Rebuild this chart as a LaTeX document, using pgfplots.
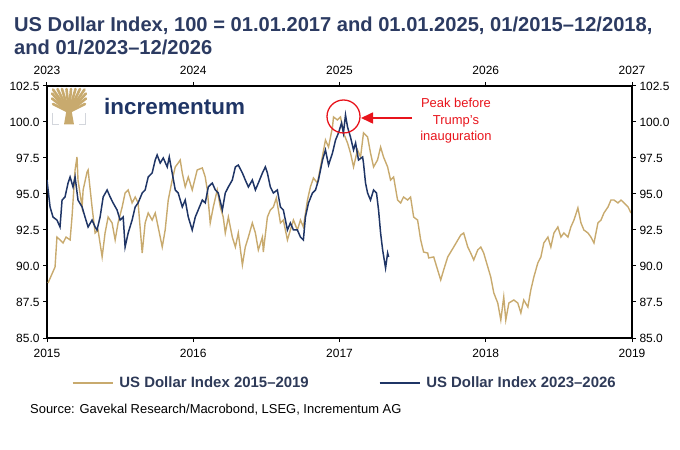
\documentclass[border=0pt]{standalone}
\usepackage{pgfplots}
\pgfplotsset{compat=1.18}
\usepackage{fontspec}
\setmainfont{Liberation Sans}
\usetikzlibrary{arrows.meta}
\definecolor{gold}{HTML}{C8AA6E}
\definecolor{navy}{HTML}{1F3566}
\definecolor{titlec}{HTML}{2C3B62}
\definecolor{legc}{HTML}{2E3A58}
\definecolor{annred}{HTML}{E8141C}
\definecolor{bracket}{HTML}{D3D6DC}
\pgfplotsset{
  common/.style={
    at={(0,0)}, anchor=south west,
    scale only axis, width=585bp, height=252bp,
    ymin=85, ymax=102.5,
    ytick={85,87.5,90,92.5,95,97.5,100,102.5},
    tick align=outside, major tick length=4bp,
    /pgf/number format/assume math mode=true,
    tick label style={font=\fontsize{12}{14}\selectfont, black},
    xticklabel style={/pgf/number format/1000 sep={}},
    yticklabel style={/pgf/number format/.cd, fixed, fixed zerofill, precision=1},
    axis line style={line width=1.1bp, black},
    tick style={line width=1bp, black},
  }
}
\begin{document}
\begin{tikzpicture}
\begin{axis}[common,
  xmin=2015, xmax=2019, xtick={2015,2016,2017,2018,2019},
  xticklabel style={yshift=-3.5bp},
  axis x line*=bottom, axis y line*=left]
\addplot[gold, line width=1.4bp] coordinates {
(2015.007,88.82)(2015.055,89.93)(2015.068,92.01)(2015.089,91.81)(2015.110,91.60)(2015.130,92.01)(2015.158,91.81)(2015.171,93.40)(2015.192,96.67)(2015.205,97.57)(2015.212,95.97)(2015.240,94.10)(2015.247,95.28)(2015.274,96.53)(2015.281,96.67)(2015.308,94.10)(2015.329,92.29)(2015.349,92.50)(2015.377,90.63)(2015.397,92.29)(2015.418,93.40)(2015.445,92.99)(2015.466,91.81)(2015.486,92.99)(2015.514,94.10)(2015.534,95.07)(2015.555,95.28)(2015.582,94.38)(2015.603,94.79)(2015.623,94.38)(2015.651,90.90)(2015.671,92.99)(2015.692,93.68)(2015.719,93.19)(2015.740,93.68)(2015.760,92.71)(2015.788,91.32)(2015.808,92.50)(2015.829,94.58)(2015.856,95.97)(2015.877,96.88)(2015.897,97.15)(2015.911,97.36)(2015.925,96.46)(2015.945,95.49)(2015.966,96.18)(2015.993,95.28)(2016.027,96.67)(2016.062,96.81)(2016.082,96.18)(2016.096,95.28)(2016.116,92.99)(2016.137,94.10)(2016.164,95.28)(2016.185,94.10)(2016.205,93.40)(2016.219,92.29)(2016.240,93.40)(2016.267,92.01)(2016.288,91.32)(2016.308,92.29)(2016.336,90.07)(2016.356,91.32)(2016.377,92.01)(2016.404,92.99)(2016.425,92.29)(2016.445,91.11)(2016.473,92.01)(2016.479,90.97)(2016.507,93.40)(2016.527,93.89)(2016.548,94.10)(2016.568,94.72)(2016.582,93.89)(2016.596,92.99)(2016.616,93.19)(2016.644,91.81)(2016.664,92.50)(2016.685,93.19)(2016.712,92.50)(2016.733,93.19)(2016.753,92.71)(2016.781,94.58)(2016.801,95.49)(2016.822,96.11)(2016.849,95.76)(2016.870,96.88)(2016.904,98.75)(2016.925,98.26)(2016.952,99.65)(2016.959,100.35)(2016.986,100.14)(2017.007,100.35)(2017.027,99.24)(2017.055,98.54)(2017.075,97.85)(2017.096,96.88)(2017.123,98.06)(2017.144,97.57)(2017.164,99.24)(2017.192,98.96)(2017.212,97.85)(2017.233,96.88)(2017.260,97.36)(2017.281,98.26)(2017.301,97.57)(2017.329,96.88)(2017.349,95.97)(2017.370,96.18)(2017.397,94.58)(2017.418,94.38)(2017.438,94.79)(2017.466,94.58)(2017.486,94.79)(2017.507,93.40)(2017.534,93.19)(2017.555,91.81)(2017.575,90.97)(2017.603,90.90)(2017.610,90.56)(2017.644,90.63)(2017.692,89.03)(2017.712,89.72)(2017.740,90.63)(2017.781,91.32)(2017.829,92.15)(2017.849,92.29)(2017.877,91.32)(2017.897,90.90)(2017.918,90.42)(2017.945,91.11)(2017.966,91.32)(2017.986,90.90)(2018.014,89.93)(2018.034,89.24)(2018.055,88.13)(2018.082,87.43)(2018.103,86.25)(2018.123,87.85)(2018.137,86.25)(2018.158,87.43)(2018.192,87.64)(2018.219,87.43)(2018.240,86.74)(2018.260,87.64)(2018.288,87.15)(2018.308,88.33)(2018.329,89.24)(2018.356,90.21)(2018.377,90.63)(2018.397,91.60)(2018.425,92.01)(2018.445,91.32)(2018.466,92.29)(2018.493,92.71)(2018.514,92.01)(2018.534,92.29)(2018.562,92.01)(2018.582,92.71)(2018.603,93.19)(2018.630,94.03)(2018.651,92.99)(2018.671,92.50)(2018.699,92.29)(2018.719,92.01)(2018.740,91.60)(2018.767,92.99)(2018.788,93.19)(2018.808,93.68)(2018.836,94.10)(2018.856,94.58)(2018.877,94.58)(2018.904,94.38)(2018.925,94.58)(2018.945,94.38)(2018.973,94.10)(2018.993,93.68)
};
\end{axis}
\begin{axis}[common,
  xmin=2023, xmax=2027, xtick={2023,2024,2025,2026,2027},
  xticklabel style={yshift=3.5bp},
  axis x line*=top, axis y line*=right,
  legend columns=2,
  legend style={at={(0.509,-0.179)}, anchor=center, draw=none, fill=none,
    font=\fontsize{15}{18}\selectfont\bfseries\color{legc},
    /tikz/every even column/.append style={column sep=68bp},
    inner sep=0pt},
  legend image code/.code={\draw[#1] (0bp,0bp) -- (40bp,0bp); \path (44bp,0bp);}]
\addlegendimage{gold, line width=1.6bp}
\addlegendentry{US Dollar Index 2015--2019}
\addplot[navy, line width=1.5bp] coordinates {
(2023.000,95.97)(2023.021,94.10)(2023.041,93.40)(2023.068,93.19)(2023.089,92.71)(2023.103,94.58)(2023.123,94.79)(2023.144,95.76)(2023.158,96.18)(2023.178,95.49)(2023.192,96.18)(2023.212,94.58)(2023.240,94.10)(2023.260,93.40)(2023.281,92.71)(2023.308,93.19)(2023.329,92.71)(2023.342,92.50)(2023.363,93.40)(2023.384,94.79)(2023.411,95.28)(2023.432,94.79)(2023.452,94.38)(2023.479,93.89)(2023.500,93.19)(2023.521,93.40)(2023.534,91.32)(2023.555,92.29)(2023.582,93.19)(2023.603,94.10)(2023.623,94.38)(2023.651,95.07)(2023.671,95.28)(2023.692,96.18)(2023.719,96.46)(2023.740,97.36)(2023.753,97.71)(2023.774,97.15)(2023.795,97.50)(2023.822,96.88)(2023.836,97.57)(2023.856,96.46)(2023.877,95.28)(2023.897,95.07)(2023.925,94.10)(2023.945,94.58)(2023.966,93.40)(2023.993,92.50)(2024.014,93.40)(2024.034,93.89)(2024.062,94.58)(2024.082,94.38)(2024.103,95.49)(2024.130,95.76)(2024.151,95.28)(2024.171,95.07)(2024.199,93.89)(2024.219,95.07)(2024.240,95.49)(2024.267,95.97)(2024.288,96.88)(2024.308,97.01)(2024.336,96.46)(2024.356,95.97)(2024.377,95.49)(2024.404,95.97)(2024.425,95.28)(2024.445,95.76)(2024.473,96.46)(2024.493,96.88)(2024.507,96.46)(2024.527,95.49)(2024.548,95.07)(2024.575,95.28)(2024.596,94.10)(2024.616,93.89)(2024.644,92.50)(2024.664,92.99)(2024.685,92.50)(2024.712,92.50)(2024.733,92.01)(2024.753,91.81)(2024.767,93.40)(2024.788,94.38)(2024.815,95.07)(2024.836,95.28)(2024.856,95.97)(2024.884,97.36)(2024.904,98.06)(2024.925,97.01)(2024.952,97.85)(2024.973,98.75)(2024.993,99.24)(2025.014,99.93)(2025.027,99.24)(2025.041,100.49)(2025.055,99.65)(2025.075,98.96)(2025.096,98.06)(2025.110,98.54)(2025.130,97.36)(2025.158,97.57)(2025.164,97.15)(2025.178,95.76)(2025.192,95.07)(2025.212,94.58)(2025.233,95.28)(2025.253,95.07)(2025.267,93.89)(2025.281,92.29)(2025.295,91.11)(2025.315,89.86)(2025.329,90.90)(2025.336,90.63)
};
\addlegendentry{US Dollar Index 2023--2026}
\end{axis}
\begin{scope}[shift={(-47bp,338bp)}, x=1bp, y=-1bp]
\path[use as bounding box] (0,0) rectangle (680,450);
% title
\node[anchor=base west, inner sep=0pt, text=titlec, font=\fontsize{20.2}{23}\selectfont\bfseries] at (14,32) {US Dollar Index, 100 = 01.01.2017 and 01.01.2025, 01/2015--12/2018,};
\node[anchor=base west, inner sep=0pt, text=titlec, font=\fontsize{20.2}{23}\selectfont\bfseries] at (14,55) {and 01/2023--12/2026};
% logo
\fill[gold] (64,124.5) -- (74,124.5) -- (72,113) -- (70.5,106) -- (67.5,106) -- (66,113) -- cycle;
\foreach \tx/\ty in {53/89.5,57.5/89,62/89,66.5/89,71/89,75.5/89,80/89,84.5/89.5,52/93.5,52/98.5,53/104,86/93.5,86/98.5,85/104}
  \draw[gold, line width=2.6bp, line cap=round] (69,112) -- (\tx,\ty);
\draw[bracket, line width=1.8bp] (52.5,113) -- (52.5,124.5) -- (59,124.5);
\draw[bracket, line width=1.8bp] (79,124.5) -- (85.5,124.5) -- (85.5,113);
\node[anchor=base west, inner sep=0pt, text=navy, font=\fontsize{22.5}{26}\selectfont\bfseries] at (104,115) {incrementum};
% annotation
\draw[annred, line width=1.3bp] (343.5,116.5) circle[radius=16.5];
\draw[annred, line width=1.6bp, -{Triangle[length=12bp,width=11bp]}] (412,118) -- (361,118);
\node[text=annred, align=center, inner sep=0pt, font=\fontsize{13}{16.5}\selectfont] at (456,121) {Peak before\\Trump's\\inauguration};
% source
\node[anchor=base west, inner sep=0pt, font=\fontsize{13}{15}\selectfont] at (30,414) {Source: Gavekal Research/Macrobond, LSEG, Incrementum AG};
\end{scope}
\end{tikzpicture}
\end{document}
